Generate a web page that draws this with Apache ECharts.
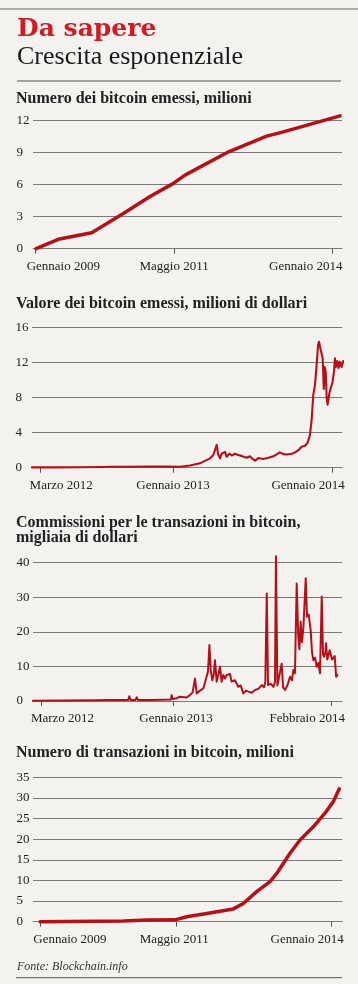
<!DOCTYPE html>
<html>
<head>
<meta charset="utf-8">
<script src="https://cdn.jsdelivr.net/npm/echarts@6/dist/echarts.min.js"></script>
<style>
html,body{margin:0;padding:0;background:#f3f2ef;}
#c{width:358px;height:984px;}
</style>
</head>
<body>
<div id="c"></div>
<script>
// ---------- DATA (x = decimal year) ----------
// 1. Numero dei bitcoin emessi, milioni
const years1 = [2009.009, 2009.385, 2009.947, 2010.479, 2010.928, 2011.315, 2011.517, 2012.219, 2012.892, 2013.171, 2014.126];
const coins1 = [0, 0.88, 1.5, 3.3, 4.9, 6.1, 6.9, 9.0, 10.55, 10.95, 12.45];
const ticks1 = [2009, 2011.3333, 2014];
const labels1 = ['Gennaio 2009', 'Maggio 2011', 'Gennaio 2014'];

// 2. Valore dei bitcoin emessi
const years2 = [2012.116, 2012.25, 2012.4, 2012.55, 2012.62, 2012.7, 2012.85, 2012.95,
  2013.044, 2013.107, 2013.169, 2013.232, 2013.253, 2013.263, 2013.274, 2013.282, 2013.295, 2013.305,
  2013.315, 2013.326, 2013.336, 2013.353, 2013.368, 2013.389, 2013.409, 2013.43, 2013.462, 2013.482,
  2013.499, 2013.514, 2013.535, 2013.566, 2013.597, 2013.629, 2013.67, 2013.691, 2013.712, 2013.744,
  2013.765, 2013.786, 2013.806, 2013.827, 2013.842, 2013.858, 2013.869, 2013.879, 2013.89, 2013.9,
  2013.909, 2013.915, 2013.924, 2013.932, 2013.938, 2013.945, 2013.95, 2013.957, 2013.963, 2013.969,
  2013.98, 2013.99, 2014.0, 2014.009, 2014.015, 2014.021, 2014.03, 2014.038, 2014.046, 2014.057,
  2014.067, 2014.076];
const value2 = [0.04, 0.04, 0.05, 0.08, 0.1, 0.11, 0.12, 0.14,
  0.11, 0.25, 0.5, 1.07, 1.45, 2.0, 2.6, 1.6, 1.07, 1.6,
  1.4, 1.8, 1.25, 1.6, 1.4, 1.6, 1.45, 1.35, 1.14, 1.3,
  1.0, 0.8, 1.1, 1.0, 1.14, 1.3, 1.75, 1.55, 1.5, 1.6,
  1.75, 2.0, 2.4, 2.5, 2.8, 3.7, 5.5, 8.3, 9.5, 11.7,
  14.0, 14.4, 13.6, 13.8, 12.5, 9.0, 11.5, 11.0, 8.0, 7.2,
  8.5, 9.2, 9.8, 11.0, 12.5, 11.5, 12.2, 11.4, 12.1, 11.5,
  12.2, 12.0];
const ticks2 = [2012.1667, 2013, 2014];
const labels2 = ['Marzo 2012', 'Gennaio 2013', 'Gennaio 2014'];

// 3. Commissioni per le transazioni in bitcoin, migliaia di dollari
const years3 = [2012.114, 2012.3, 2012.5, 2012.6, 2012.715, 2012.722, 2012.73, 2012.762, 2012.769, 2012.776,
  2012.87, 2012.874, 2012.88, 2012.985, 2012.99, 2012.996, 2013.02,
  2013.042, 2013.053, 2013.084, 2013.105, 2013.122, 2013.137, 2013.148, 2013.169, 2013.19, 2013.21,
  2013.219, 2013.228, 2013.236, 2013.246, 2013.255, 2013.263, 2013.274, 2013.284, 2013.295, 2013.305,
  2013.316, 2013.326, 2013.337, 2013.347, 2013.358, 2013.368, 2013.389, 2013.41, 2013.425, 2013.442,
  2013.459, 2013.474, 2013.495, 2013.516, 2013.537, 2013.558, 2013.573, 2013.581, 2013.59, 2013.598,
  2013.615, 2013.632, 2013.642, 2013.648, 2013.657, 2013.669, 2013.684, 2013.693, 2013.705, 2013.72,
  2013.737, 2013.749, 2013.758, 2013.768, 2013.779, 2013.789, 2013.796, 2013.804, 2013.812, 2013.821,
  2013.836, 2013.844, 2013.855, 2013.867, 2013.876, 2013.884, 2013.895, 2013.905, 2013.916, 2013.926,
  2013.937, 2013.945, 2013.951, 2013.96, 2013.964, 2013.972, 2013.978, 2013.987, 2013.993, 2014.002,
  2014.01, 2014.019, 2014.028, 2014.036];
const fees3 = [0.1, 0.15, 0.2, 0.3, 0.3, 1.4, 0.3, 0.3, 1.1, 0.3,
  0.3, 0.8, 0.3, 0.4, 1.7, 0.6, 0.8,
  1.25, 1.7, 1.0, 1.7, 2.5, 6.5, 2.2, 3.0, 3.7, 7.0,
  8.5, 16.2, 9.0, 6.0, 7.5, 11.8, 5.6, 7.5, 9.9, 5.6,
  7.5, 6.5, 7.5, 7.0, 7.8, 5.6, 6.0, 4.1, 4.5, 2.2,
  3.0, 2.7, 2.4, 3.2, 3.5, 4.6, 4.0, 5.6, 31.1, 4.6,
  5.0, 4.1, 5.5, 41.9, 4.5, 5.0, 10.8, 4.0, 3.2, 4.5,
  7.0, 6.0, 9.0, 8.0, 34.0, 18.6, 15, 22.9, 17, 21,
  35.5, 24.4, 25, 20.5, 14, 11.8, 12.5, 9.9, 11, 8.0,
  30.2, 13.5, 12.8, 14, 16.7, 12.0, 11.8, 14.7, 14.7, 12.0,
  11.8, 13, 7.0, 7.5];
const ticks3 = [2012.1667, 2013, 2014];
const labels3 = ['Marzo 2012', 'Gennaio 2013', 'Febbraio 2014'];

// 4. Numero di transazioni in bitcoin, milioni
const years4 = [2009.0, 2010.428, 2010.83, 2011.315, 2011.516, 2011.86, 2012.315, 2012.487, 2012.716, 2012.945, 2013.06, 2013.288, 2013.46, 2013.687, 2013.888, 2014.03, 2014.134];
const tx4 = [0, 0.16, 0.4, 0.45, 1.2, 2.0, 3.1, 4.4, 7.3, 9.7, 11.7, 16.6, 19.8, 23.0, 26.3, 29.1, 32.2];
const ticks4 = [2009, 2011.3333, 2014];
const labels4 = ['Gennaio 2009', 'Maggio 2011', 'Gennaio 2014'];

// ---------- STYLE ----------
const SERIF = '"Liberation Serif", "DejaVu Serif", serif';
const INK = '#222';
const GRID = '#7a7a7a';
const RED = '#b3111a';
const lblFont = {fontFamily: SERIF, fontSize: 13, color: INK};

function xAxis(gi, min, max, ticks, labels, pads) {
  const rich = {};
  pads.forEach((p, i) => { rich['p' + i] = Object.assign({padding: p}, lblFont); });
  return {
    gridIndex: gi, type: 'value', min: min, max: max,
    splitLine: {show: false},
    axisLine: {show: true, onZero: false, lineStyle: {color: GRID, width: 1}},
    axisTick: {show: true, customValues: ticks, length: 5, lineStyle: {color: '#555', width: 1}},
    axisLabel: Object.assign({
      customValues: ticks, margin: 11, hideOverlap: false,
      formatter: function (v) {
        let k = 0, d = Infinity;
        ticks.forEach((t, i) => { if (Math.abs(t - v) < d) { d = Math.abs(t - v); k = i; } });
        return '{p' + k + '|' + labels[k] + '}';
      },
      rich: rich
    }, lblFont)
  };
}
function yAxis(gi, max, interval) {
  return {
    gridIndex: gi, type: 'value', min: 0, max: max, interval: interval,
    axisLine: {show: false}, axisTick: {show: false},
    splitLine: {show: true, lineStyle: {color: GRID, width: 1}},
    axisLabel: Object.assign({align: 'left', margin: 16.5}, lblFont)
  };
}
function series(gi, xs, ys, w) {
  return {
    type: 'line', xAxisIndex: gi, yAxisIndex: gi,
    data: xs.map((x, i) => [x, ys[i]]),
    symbol: 'none', showSymbol: false, clip: false, silent: true,
    lineStyle: {color: RED, width: w, join: 'round', cap: 'round'}
  };
}
function txt(x, y, s, font, fill) {
  return {type: 'text', x: x, y: y, silent: true,
    style: {text: s, font: font, fill: fill || INK, verticalAlign: 'middle', align: 'left'}};
}
function rule(x1, x2, y, c, w) {
  return {type: 'line', silent: true, shape: {x1: x1, y1: y, x2: x2, y2: y},
    style: {stroke: c, lineWidth: w}};
}

const chart = echarts.init(document.getElementById('c'), null, {renderer: 'canvas'});
chart.setOption({
  backgroundColor: '#f3f2ef',
  animation: false,
  grid: [
    {left: 33, right: 16, top: 120.7, height: 128, outerBoundsMode: 'none', containLabel: false},
    {left: 32, right: 15.7, top: 327.7, height: 140, outerBoundsMode: 'none', containLabel: false},
    {left: 33, right: 16, top: 562.7, height: 138.3, outerBoundsMode: 'none', containLabel: false},
    {left: 33, right: 15.7, top: 777.3, height: 144.4, outerBoundsMode: 'none', containLabel: false}
  ],
  xAxis: [
    xAxis(0, 2008.959, 2014.159, ticks1, labels1, [[0,0,0,55.8],[0,0,0,0],[0,53.6,0,0]]),
    xAxis(1, 2012.1165, 2014.061, ticks2, labels2, [[0,0,0,42.4],[0,0,0,0],[0,49,0,0]]),
    xAxis(2, 2012.1143, 2014.065, ticks3, labels3, [[0,0,0,42.4],[0,0,0,5.4],[0,49,0,0]]),
    xAxis(3, 2008.879, 2014.185, ticks4, labels4, [[0,0,0,59.8],[0,3.6,0,0],[0,48.6,0,0]])
  ],
  yAxis: [yAxis(0, 12, 3), yAxis(1, 16, 4), yAxis(2, 40, 10), yAxis(3, 35, 5)],
  series: [
    series(0, years1, coins1, 3.5),
    series(1, years2, value2, 2.1),
    series(2, years3, fees3, 2.0),
    series(3, years4, tx4, 3.5)
  ],
  graphic: [
    rule(0, 358, 9, '#666', 1.2),
    txt(17, 29.5, 'Da sapere', 'bold 25px "DejaVu Serif", serif', '#cf1b24'),
    txt(17, 57.5, 'Crescita esponenziale', '26px ' + SERIF, '#1a1a1a'),
    rule(17, 341, 81, '#555', 1),
    txt(16, 99.2, 'Numero dei bitcoin emessi, milioni', 'bold 16px ' + SERIF),
    txt(16, 304, 'Valore dei bitcoin emessi, milioni di dollari', 'bold 16px ' + SERIF),
    txt(16, 522.7, 'Commissioni per le transazioni in bitcoin,', 'bold 16px ' + SERIF),
    txt(16, 538, 'migliaia di dollari', 'bold 16px ' + SERIF),
    txt(16, 752.4, 'Numero di transazioni in bitcoin, milioni', 'bold 16px ' + SERIF),
    txt(17, 967.3, 'Fonte: Blockchain.info', 'italic 12px ' + SERIF, '#333'),
    rule(16, 342, 977.7, '#555', 1)
  ]
});
</script>
</body>
</html>
